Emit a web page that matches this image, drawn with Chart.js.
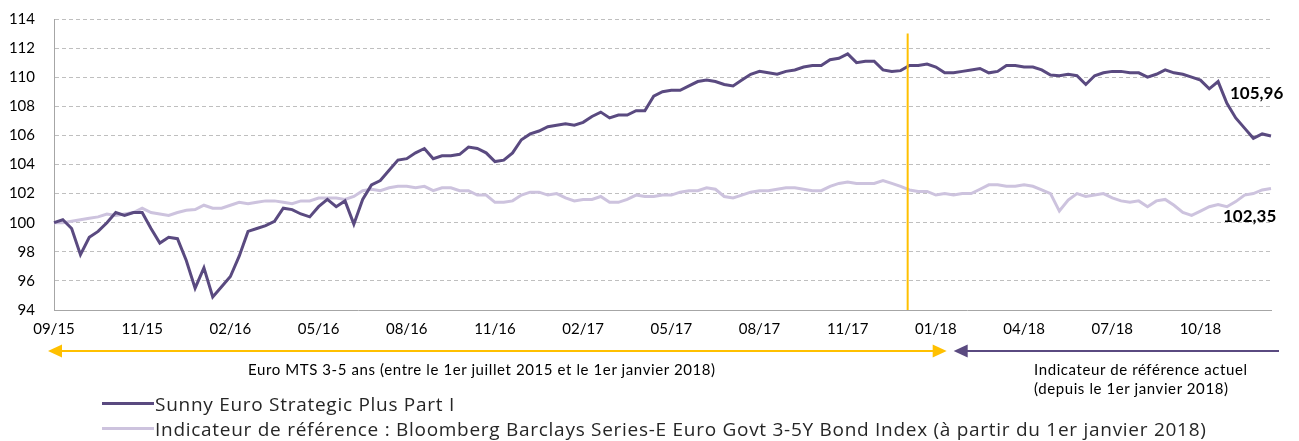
<!DOCTYPE html>
<html lang="fr">
<head>
  <meta charset="UTF-8"/>
  <title>Sunny Euro Strategic Plus Part I</title>
  <script src="https://cdn.jsdelivr.net/npm/chart.js"></script>
  <style>
    body {
      margin: 0;
      background: #fff;
      font-family: 'Lato', sans-serif;
      color: #000;
    }

    .wrap {
      position: relative;
      width: 1299px;
      height: 441px;
      overflow: hidden;
    }

    canvas {
      position: absolute;
      left: 0;
      top: 0;
    }

    .note {
      position: absolute;
      font-size: 15px;
      letter-spacing: 0.6px;
      line-height: 19px;
      white-space: nowrap;
    }

    .legend {
      position: absolute;
      left: 102px;
      top: 391px;
      font-family: 'Open Sans', sans-serif;
      font-size: 19px;
      letter-spacing: 0.72px;
      color: #262626;
    }

    .legend div {
      display: flex;
      align-items: center;
      height: 25px;
      white-space: nowrap;
    }

    .legend i {
      display: inline-block;
      width: 52px;
      height: 3px;
      margin-right: 1px;
    }
  </style>
</head>
<body>
  <div class="wrap">
    <canvas id="perfChart" width="1299" height="441"></canvas>

    <div class="note" style="left:248px; top:360px;">Euro MTS 3-5 ans (entre le 1er juillet 2015 et le 1er janvier 2018)</div>
    <div class="note" style="left:1034px; top:360px;">Indicateur de référence actuel</div>
    <div class="note" style="left:1034px; top:379px;">(depuis le 1er janvier 2018)</div>

    <div class="legend">
      <div><i style="background:#5a4a80"></i>Sunny Euro Strategic Plus Part I</div>
      <div><i style="background:#cdc3de"></i>Indicateur de référence : Bloomberg Barclays Series-E Euro Govt 3-5Y Bond Index (à partir du 1er janvier 2018)</div>
    </div>
  </div>

  <script>
    // axis labels, one every 10 points
    const tickLabels = ['09/15', '11/15', '02/16', '05/16', '08/16', '11/16', '02/17',
                        '05/17', '08/17', '11/17', '01/18', '04/18', '07/18', '10/18'];
    const tickEvery = 10;

    // position of 1 Jan 2018 on the axis (in points)
    const switchPoint = 96.8;

    const fundName = 'Sunny Euro Strategic Plus Part I';
    const fund = [
      100.0, 100.2, 99.6, 97.8, 99.0, 99.4, 100.0, 100.7, 100.5, 100.7,
      100.7, 99.6, 98.6, 99.0, 98.9, 97.4, 95.5, 96.9, 94.9, 95.6,
      96.3, 97.7, 99.4, 99.6, 99.8, 100.1, 101.0, 100.9, 100.6, 100.4,
      101.1, 101.6, 101.1, 101.5, 99.9, 101.6, 102.6, 102.9, 103.6, 104.3,
      104.4, 104.8, 105.1, 104.4, 104.6, 104.6, 104.7, 105.2, 105.1, 104.8,
      104.2, 104.3, 104.8, 105.7, 106.1, 106.3, 106.6, 106.7, 106.8, 106.7,
      106.9, 107.3, 107.6, 107.2, 107.4, 107.4, 107.7, 107.7, 108.7, 109.0,
      109.1, 109.1, 109.4, 109.7, 109.8, 109.7, 109.5, 109.4, 109.8, 110.2,
      110.4, 110.3, 110.2, 110.4, 110.5, 110.7, 110.8, 110.8, 111.2, 111.3,
      111.6, 111.0, 111.1, 111.1, 110.5, 110.4, 110.45, 110.8, 110.8, 110.9,
      110.7, 110.3, 110.3, 110.4, 110.5, 110.6, 110.3, 110.4, 110.8, 110.8,
      110.7, 110.7, 110.5, 110.15, 110.1, 110.2, 110.1, 109.5, 110.1, 110.3,
      110.4, 110.4, 110.3, 110.3, 110.0, 110.2, 110.5, 110.3, 110.2, 110.0,
      109.8, 109.2, 109.7, 108.2, 107.2, 106.5, 105.8, 106.1, 105.96
    ];

    const benchName = 'Indicateur de référence';
    const bench = [
      100.0, 100.0, 100.1, 100.2, 100.3, 100.4, 100.6, 100.5, 100.6, 100.7,
      101.0, 100.7, 100.6, 100.5, 100.7, 100.85, 100.9, 101.2, 101.0, 101.0,
      101.2, 101.4, 101.3, 101.4, 101.5, 101.5, 101.4, 101.3, 101.5, 101.5,
      101.7, 101.7, 101.7, 101.6, 101.8, 102.2, 102.3, 102.2, 102.4, 102.5,
      102.5, 102.4, 102.5, 102.2, 102.4, 102.4, 102.2, 102.2, 101.9, 101.9,
      101.4, 101.4, 101.5, 101.9, 102.1, 102.1, 101.9, 102.0, 101.7, 101.5,
      101.6, 101.6, 101.8, 101.4, 101.4, 101.6, 101.9, 101.8, 101.8, 101.9,
      101.9, 102.1, 102.2, 102.2, 102.4, 102.3, 101.8, 101.7, 101.9, 102.1,
      102.2, 102.2, 102.3, 102.4, 102.4, 102.3, 102.2, 102.2, 102.5, 102.7,
      102.8, 102.7, 102.7, 102.7, 102.9, 102.7, 102.5, 102.25, 102.15, 102.15,
      101.9, 102.0, 101.9, 102.0, 102.0, 102.3, 102.6, 102.6, 102.5, 102.5,
      102.6, 102.5, 102.25, 102.0, 100.8, 101.55, 102.0, 101.8, 101.9, 102.0,
      101.7, 101.5, 101.4, 101.5, 101.1, 101.5, 101.6, 101.2, 100.7, 100.5,
      100.8, 101.1, 101.25, 101.1, 101.45, 101.9, 102.0, 102.25, 102.35
    ];

    const labels = fund.map((v, i) => i % tickEvery === 0 ? tickLabels[i / tickEvery] : '');

    function fmt(v) {
      return v.toFixed(2).replace('.', ',');
    }

    function arrowHead(ctx, x, y, dir, color) {
      ctx.fillStyle = color;
      ctx.beginPath();
      ctx.moveTo(x, y);
      ctx.lineTo(x - dir * 14, y - 6.5);
      ctx.lineTo(x - dir * 14, y + 6.5);
      ctx.closePath();
      ctx.fill();
    }

    // vertical marker, period arrows and last values
    const extras = {
      id: 'extras',
      afterDatasetsDraw(chart) {
        const { ctx, chartArea, scales: { x, y } } = chart;
        const sx = x.getPixelForValue(switchPoint);
        ctx.save();

        ctx.strokeStyle = '#ffc000';
        ctx.lineWidth = 2;
        ctx.beginPath();
        ctx.moveTo(sx, y.getPixelForValue(113));
        ctx.lineTo(sx, chartArea.bottom);
        ctx.stroke();

        const ay = chartArea.bottom + 41;
        const left = chartArea.left - 6;
        const oEnd = sx + 39;
        ctx.beginPath();
        ctx.moveTo(left + 10, ay);
        ctx.lineTo(oEnd - 10, ay);
        ctx.stroke();
        arrowHead(ctx, left, ay, -1, '#ffc000');
        arrowHead(ctx, oEnd, ay, 1, '#ffc000');

        const pStart = sx + 46;
        ctx.strokeStyle = '#5a4a80';
        ctx.beginPath();
        ctx.moveTo(pStart + 10, ay);
        ctx.lineTo(chartArea.right + 8, ay);
        ctx.stroke();
        arrowHead(ctx, pStart, ay, -1, '#5a4a80');

        const n = fund.length - 1;
        const lx = x.getPixelForValue(n);
        ctx.font = 'bold 17px Lato';
        ctx.fillStyle = '#000';
        ctx.textAlign = 'left';
        ctx.textBaseline = 'middle';
        ctx.fillText(fmt(fund[n]), lx - 41, y.getPixelForValue(fund[n]) - 42);
        ctx.fillText(fmt(bench[n]), lx - 48, y.getPixelForValue(bench[n]) + 28);

        ctx.restore();
      }
    };

    const tickFont = { family: 'Lato', size: 15 };

    new Chart(document.getElementById('perfChart'), {
      type: 'line',
      data: {
        labels,
        datasets: [
          {
            label: fundName,
            data: fund,
            borderColor: '#5a4a80',
            borderWidth: 3,
            pointRadius: 0,
            tension: 0
          },
          {
            label: benchName,
            data: bench,
            borderColor: '#cdc3de',
            borderWidth: 3,
            pointRadius: 0,
            tension: 0
          }
        ]
      },
      options: {
        responsive: false,
        animation: false,
        layout: { padding: { left: 0, right: 28, top: 19, bottom: 0 } },
        plugins: {
          legend: { display: false },
          tooltip: { enabled: false }
        },
        scales: {
          x: {
            grid: { display: false, drawTicks: false },
            border: { display: true, color: '#a6a6a6', width: 1 },
            ticks: {
              autoSkip: false,
              maxRotation: 0,
              padding: 10,
              color: '#000',
              font: tickFont,
              callback: (v, i) => i % tickEvery === 0 ? tickLabels[i / tickEvery] : null
            },
            afterFit: s => { s.height = 131; }
          },
          y: {
            min: 94,
            max: 114,
            ticks: { stepSize: 2, padding: 19, color: '#000', font: tickFont },
            grid: {
              drawTicks: false,
              lineWidth: 1,
              color: c => c.tick && c.tick.value === 94 ? 'rgba(0,0,0,0)' : '#bfbfbf'
            },
            border: { display: true, color: '#a6a6a6', width: 1, dash: [4, 3] },
            afterFit: s => {
              s.width = 54;
              s.paddingTop = 0;
              s.paddingBottom = 0;
            }
          }
        }
      },
      plugins: [extras]
    });
  </script>
</body>
</html>
